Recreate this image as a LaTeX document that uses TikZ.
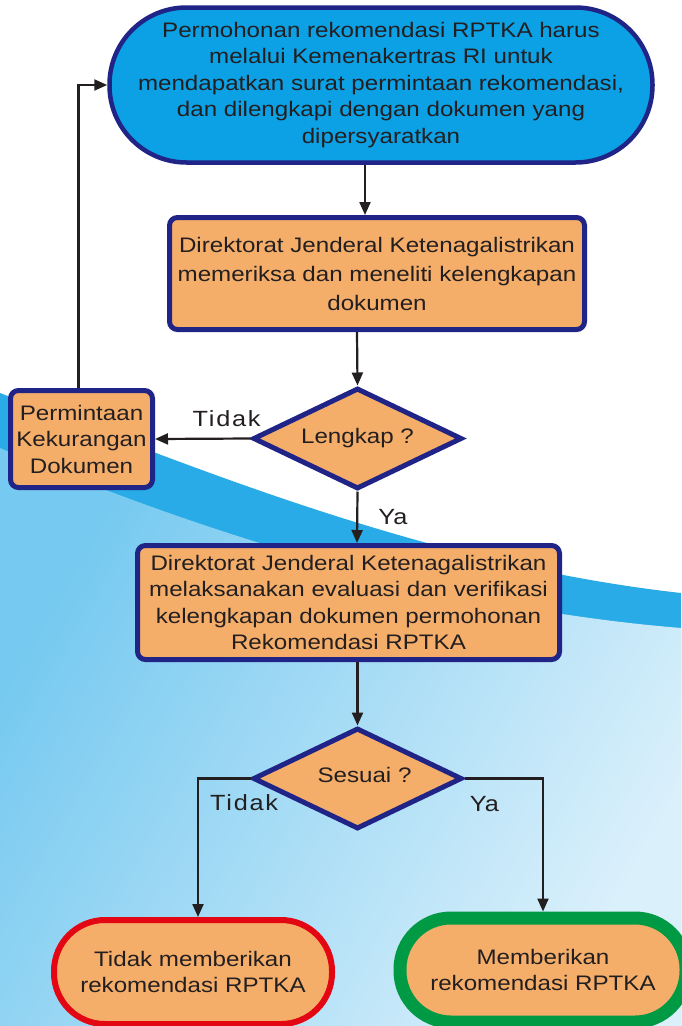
\documentclass[tikz,border=0pt]{standalone}
\usepackage{fontspec}
\setmainfont{Liberation Sans}[FakeStretch=1.15]
\usepackage{xcolor}
\usetikzlibrary{shapes.geometric,arrows.meta}

\definecolor{navy}{RGB}{32,36,134}
\definecolor{boxorange}{RGB}{245,174,106}
\definecolor{startblue}{RGB}{12,160,228}
\definecolor{ink}{RGB}{35,31,32}
\definecolor{alertred}{RGB}{227,6,19}
\definecolor{okgreen}{RGB}{0,154,68}
\definecolor{bandblue}{RGB}{40,171,230}
\definecolor{skyleft}{RGB}{118,201,240}
\definecolor{skyright}{RGB}{218,240,251}

\begin{document}
\begin{tikzpicture}[x=1pt,y=-1pt,>={Triangle[length=13pt,width=11pt]},
  base/.style={draw=navy,fill=boxorange,text=ink,align=center,inner sep=0pt,
    font=\fontsize{21}{26.5}\selectfont},
  startbox/.style={base,fill=startblue,line width=4.5pt,rounded corners=77pt},
  procbox/.style={base,line width=5pt,rounded corners=8pt},
  decide/.style={base,diamond,aspect=2,line width=5pt,minimum width=209pt,minimum height=101pt},
  endbox/.style={base,rounded corners=51pt,minimum height=104pt},
  arr/.style={->,line width=2.2pt,draw=ink},
  lbl/.style={text=ink,inner sep=0pt,font=\fontsize{22}{22}\selectfont}]

% background
\useasboundingbox (0,0) rectangle (681,1026);
\fill[white] (0,0) rectangle (681,1026);
\fill[bandblue] (0,393) .. controls (200,470) and (430,565) .. (681,593) -- (681,1026) -- (0,1026) -- cycle;
\shade[left color=skyleft,right color=skyright,shading angle=60] (0,448) .. controls (150,510) and (400,605) .. (681,628) -- (681,1026) -- (0,1026) -- cycle;

% steps
\node[startbox,minimum width=543pt,minimum height=155pt] (mohon) at (381,85) {Permohonan rekomendasi RPTKA harus\\melalui Kemenakertras RI untuk\\mendapatkan surat permintaan rekomendasi,\\dan dilengkapi dengan dokumen yang\\dipersyaratkan};
\node[procbox,minimum width=415pt,minimum height=112pt,font=\fontsize{21}{29}\selectfont] (periksa) at (377,273.5) {Direktorat Jenderal Ketenagalistrikan\\memeriksa dan meneliti kelengkapan\\dokumen};
\node[decide] (lengkap) at (357.5,438.5) {Lengkap ?};
\node[procbox,minimum width=142pt,minimum height=97pt] (minta) at (81.5,439) {Permintaan\\Kekurangan\\Dokumen};
\node[procbox,minimum width=422pt,minimum height=114pt] (evaluasi) at (348.5,602.5) {Direktorat Jenderal Ketenagalistrikan\\melaksanakan evaluasi dan verifikasi\\kelengkapan dokumen permohonan\\Rekomendasi RPTKA};
\node[decide] (sesuai) at (357.5,778.5) {\raisebox{7pt}{\hspace*{14pt}Sesuai ?}};
\node[endbox,draw=alertred,line width=6pt,minimum width=278pt] (tolak) at (193,972) {Tidak memberikan\\rekomendasi RPTKA};
\node[endbox,draw=okgreen,line width=13pt,minimum width=286pt] (terima) at (543,970) {Memberikan\\rekomendasi RPTKA};

% connectors
\draw[arr] ([xshift=-16pt]mohon.south) -- ([xshift=-12pt]periksa.north);
\draw[arr] ([xshift=-20pt]periksa.south) -- (lengkap.north);
\draw[arr] (lengkap.west) -- node[lbl,above=11pt,pos=0.25] {\addfontfeature{LetterSpace=8}Tidak} (minta.east);
\draw[arr] (lengkap.south) -- node[lbl,right=20pt] {Ya} ([xshift=8.5pt]evaluasi.north);
\draw[arr] ([xshift=-3pt]minta.north) |- (mohon.west);
\draw[arr] (evaluasi.south -| sesuai.north) -- (sesuai.north);
\draw[arr] (sesuai.west) -| node[lbl,pos=0.5,anchor=north west,xshift=11pt,yshift=-15pt] {\addfontfeature{LetterSpace=8}Tidak} ([xshift=5pt]tolak.north);
\draw[arr] (sesuai.east) -| node[lbl,pos=0.5,anchor=north east,xshift=-43pt,yshift=-17pt] {Ya} (terima.north);
\end{tikzpicture}
\end{document}
